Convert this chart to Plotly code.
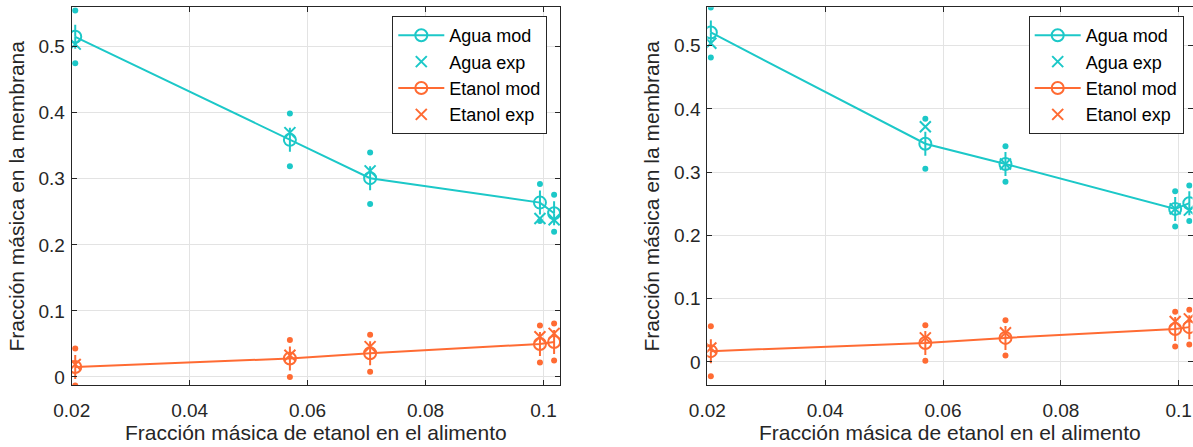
import plotly.graph_objects as go

# ---------------- data ----------------
x_feed = [0.0206, 0.0570, 0.0706, 0.0994, 0.1018]

# left panel
agua_mod_L = [0.515, 0.359, 0.301, 0.264, 0.248]
agua_exp_L = [0.504, 0.370, 0.312, 0.240, 0.238]
agua_err_L = [0.040, 0.040, 0.039, 0.028, 0.028]
etanol_mod_L = [0.015, 0.028, 0.036, 0.050, 0.053]
etanol_exp_L = [0.019, 0.033, 0.046, 0.061, 0.066]
etanol_err_L = [0.028, 0.028, 0.028, 0.028, 0.028]

# right panel
agua_mod_R = [0.521, 0.345, 0.313, 0.242, 0.251]
agua_exp_R = [0.504, 0.372, 0.313, 0.242, 0.240]
agua_err_R = [0.0395, 0.0395, 0.028, 0.028, 0.028]
etanol_mod_R = [0.017, 0.030, 0.038, 0.052, 0.055]
etanol_exp_R = [0.022, 0.038, 0.046, 0.064, 0.068]
etanol_err_R = [0.0395, 0.028, 0.028, 0.0275, 0.0275]

x_ticks = [0.02, 0.04, 0.06, 0.08, 0.1]
x_ticklabels = ["0.02", "0.04", "0.06", "0.08", "0.1"]
y_ticks = [0, 0.1, 0.2, 0.3, 0.4, 0.5]
y_ticklabels = ["0", "0.1", "0.2", "0.3", "0.4", "0.5"]

CYAN = "#1CC8C8"
ORANGE = "#FF6B33"
FONT = "Liberation Sans, Arial, sans-serif"
AX = "#262626"

fig = go.Figure()


def add_errorbars(x, y, err, color, xa, ya):
    sx, sy, dx, dy = [], [], [], []
    for xi, yi, ei in zip(x, y, err):
        for s in (1, -1):
            sx += [xi, xi, None]
            sy += [yi, yi + s * ei, None]
            dx.append(xi)
            dy.append(yi + s * ei)
    fig.add_trace(go.Scatter(x=sx, y=sy, mode="lines", connectgaps=False,
                             line=dict(color=color, width=2, dash="12px,80px"),
                             showlegend=False, hoverinfo="skip", xaxis=xa, yaxis=ya))
    fig.add_trace(go.Scatter(x=dx, y=dy, mode="markers",
                             marker=dict(color=color, size=6, symbol="circle"),
                             showlegend=False, hoverinfo="skip", xaxis=xa, yaxis=ya))


def add_panel(am, ae, aerr, em, ee, eerr, xa, ya, leg):
    add_errorbars(x_feed, am, aerr, CYAN, xa, ya)
    add_errorbars(x_feed, em, eerr, ORANGE, xa, ya)
    fig.add_trace(go.Scatter(x=x_feed, y=am, mode="lines+markers", name="Agua mod",
                             line=dict(color=CYAN, width=2),
                             marker=dict(symbol="circle-open", size=12, color=CYAN,
                                         line=dict(width=2, color=CYAN)),
                             xaxis=xa, yaxis=ya, legend=leg))
    fig.add_trace(go.Scatter(x=x_feed, y=ae, mode="markers", name="Agua exp",
                             marker=dict(symbol="x-thin-open", size=11, color=CYAN,
                                         line=dict(width=2, color=CYAN)),
                             xaxis=xa, yaxis=ya, legend=leg))
    fig.add_trace(go.Scatter(x=x_feed, y=em, mode="lines+markers", name="Etanol mod",
                             line=dict(color=ORANGE, width=2),
                             marker=dict(symbol="circle-open", size=12, color=ORANGE,
                                         line=dict(width=2, color=ORANGE)),
                             xaxis=xa, yaxis=ya, legend=leg))
    fig.add_trace(go.Scatter(x=x_feed, y=ee, mode="markers", name="Etanol exp",
                             marker=dict(symbol="x-thin-open", size=11, color=ORANGE,
                                         line=dict(width=2, color=ORANGE)),
                             xaxis=xa, yaxis=ya, legend=leg))


add_panel(agua_mod_L, agua_exp_L, agua_err_L, etanol_mod_L, etanol_exp_L, etanol_err_L,
          "x", "y", "legend")
add_panel(agua_mod_R, agua_exp_R, agua_err_R, etanol_mod_R, etanol_exp_R, etanol_err_R,
          "x2", "y2", "legend2")

W, H = 1193, 447
y_dom = [1 - 385.3 / H, 1 - 7.3 / H]

xcommon = dict(tickvals=x_ticks, ticktext=x_ticklabels, showgrid=True, gridcolor="#E3E3E3",
               gridwidth=1, zeroline=False, showline=True, linecolor=AX, linewidth=1,
               mirror="ticks", ticks="inside", ticklen=5, tickcolor=AX,
               ticklabelstandoff=8,
               tickfont=dict(family=FONT, size=19, color=AX),
               title=dict(text="Fracción másica de etanol en el alimento",
                          font=dict(family=FONT, size=21, color=AX), standoff=4))
ycommon = dict(tickvals=y_ticks, ticktext=y_ticklabels, showgrid=True, gridcolor="#E3E3E3",
               gridwidth=1, zeroline=False, showline=True, linecolor=AX, linewidth=1,
               mirror="ticks", ticks="inside", ticklen=5, tickcolor=AX,
               ticklabelstandoff=2,
               tickfont=dict(family=FONT, size=19, color=AX),
               title=dict(text="Fracción másica en la membrana",
                          font=dict(family=FONT, size=21, color=AX), standoff=8))

legcommon = dict(font=dict(family=FONT, size=18, color="black"), bgcolor="white",
                 bordercolor=AX, borderwidth=1, xanchor="left", yanchor="top",
                 itemwidth=46, tracegroupgap=0)

fig.update_layout(
    width=W, height=H,
    margin=dict(l=0, r=0, t=0, b=0, autoexpand=False),
    paper_bgcolor="white", plot_bgcolor="white",
    xaxis=dict(xcommon, domain=[71.7 / W, 560 / W], range=[0.02, 0.1028], anchor="y"),
    yaxis=dict(ycommon, domain=y_dom, range=[-0.0126, 0.5597], anchor="x"),
    xaxis2=dict(xcommon, domain=[707.3 / W, 1192.5 / W], range=[0.02, 0.10234], anchor="y2"),
    yaxis2=dict(ycommon, domain=y_dom, range=[-0.037, 0.5608], anchor="x2"),
    legend=dict(legcommon, x=392.3 / W, y=1 - 16 / H),
    legend2=dict(legcommon, x=1028.7 / W, y=1 - 16 / H),
    showlegend=True,
)

fig.write_html("out.html")
